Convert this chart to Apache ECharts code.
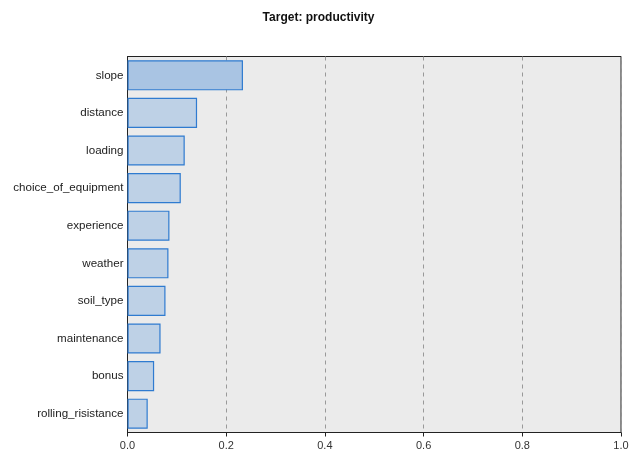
<!DOCTYPE html>
<html><head><meta charset="utf-8">
<script src="https://cdn.jsdelivr.net/npm/echarts@6/dist/echarts.min.js"></script>
<style>html,body{margin:0;padding:0;background:#fff}#c{width:637px;height:454px}</style>
</head><body><div id="c"></div>
<script>
const categories = ["slope","distance","loading","choice_of_equipment","experience","weather","soil_type","maintenance","bonus","rolling_risistance"];
const importance = [0.234,0.141,0.116,0.108,0.085,0.083,0.077,0.067,0.054,0.041];
const xTicks = [0,0.2,0.4,0.6,0.8,1.0];
const titleText = "Target: productivity";

const chart = echarts.init(document.getElementById('c'), null, {renderer:'canvas'});
const font = "'Liberation Sans', Arial, sans-serif";
chart.setOption({
  animation:false,
  backgroundColor:'#ffffff',
  title:{text:titleText,left:'center',top:7,textStyle:{fontFamily:font,fontSize:12,fontWeight:'bold',color:'#111'}},
  grid:{left:127.5,right:16,top:56.5,bottom:21.5,show:true,backgroundColor:'#ebebeb',borderColor:'#222',borderWidth:1},
  xAxis:{type:'value',min:0,max:1,interval:0.2,
    axisLine:{show:true,lineStyle:{color:'#222'}},
    axisTick:{show:true,length:4,lineStyle:{color:'#222'}},
    axisLabel:{fontFamily:font,fontSize:11,color:'#333',formatter:v=>v.toFixed(1),margin:8},
    splitLine:{show:true,lineStyle:{color:'#999',type:[4,4],width:1}}},
  yAxis:{type:'category',data:categories,inverse:true,
    axisLine:{show:true,lineStyle:{color:'#222'}},
    axisTick:{show:false},
    axisLabel:{fontFamily:font,fontSize:11.6,color:'#222',margin:4,padding:[3,0,0,0]},
    splitLine:{show:false}},
  series:[{type:'bar',barWidth:'80%',
    data:importance.map((v,i)=>({value:v,itemStyle:i===0?{color:'#a9c4e3'}:{}})),
    itemStyle:{color:'#bed1e6',borderColor:'#2f7bd0',borderWidth:1.2}}]
});
</script></body></html>
